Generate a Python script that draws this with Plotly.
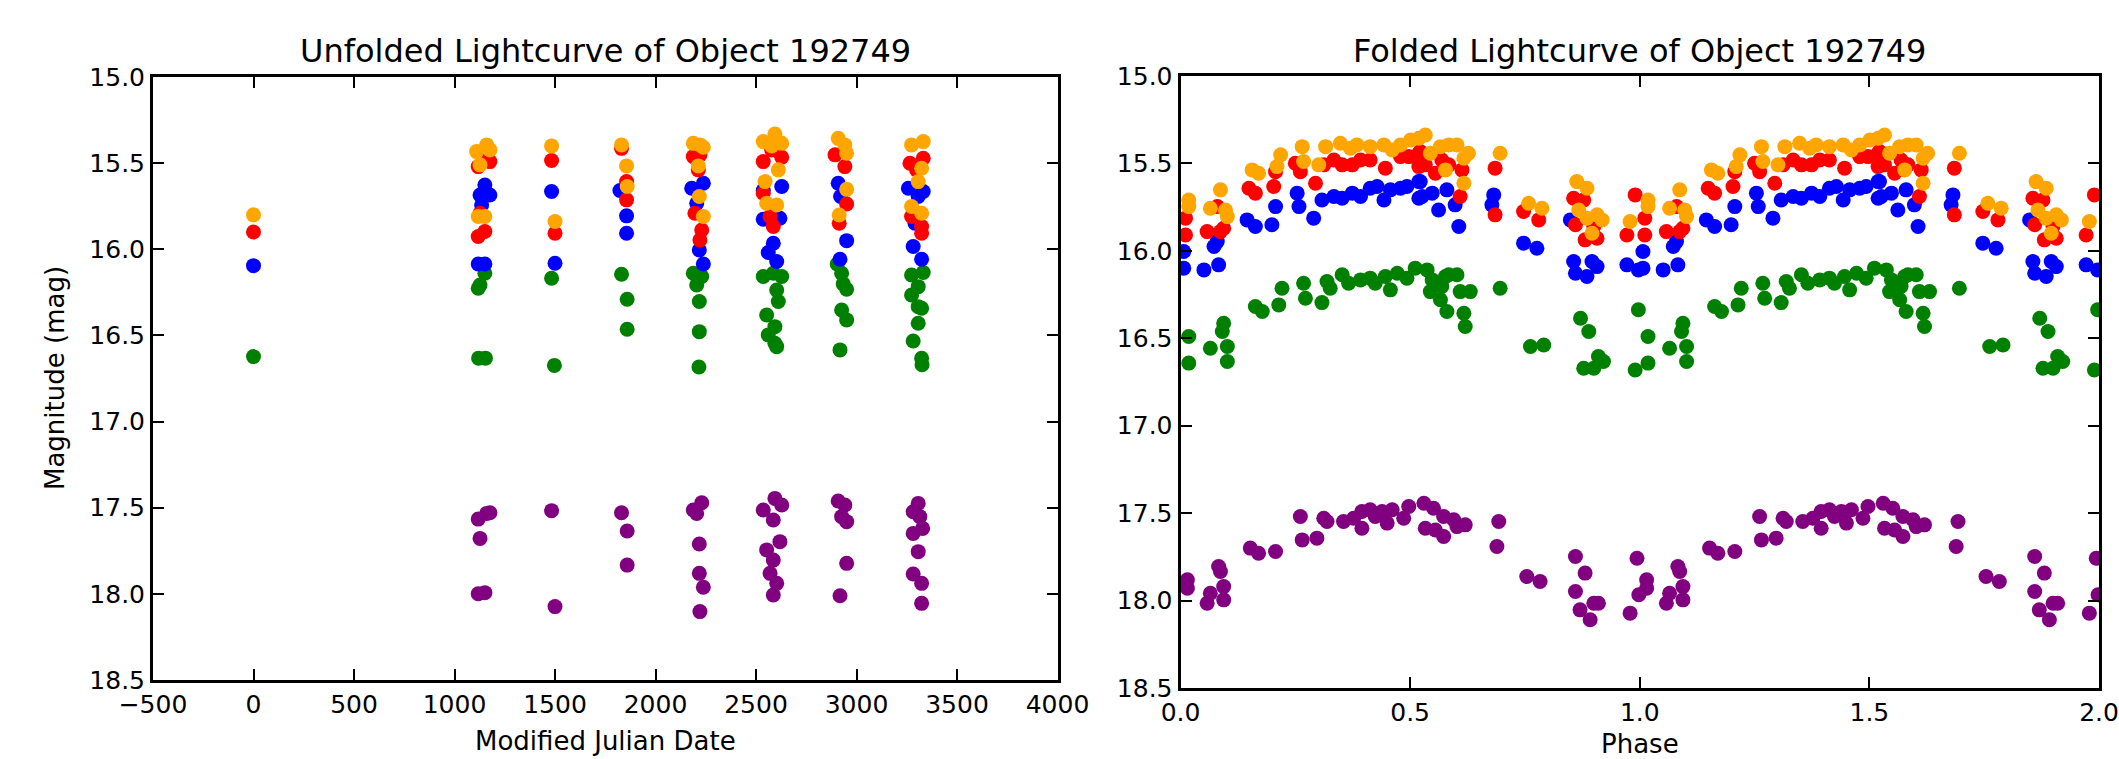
import plotly.graph_objects as go

# ---------------- Unfolded lightcurve (MJD, magnitude) ----------------
orange_t = [0, 1110, 1160, 1176, 1127, 1118, 1151, 1483, 1500, 1831, 1856, 1859,
            2188, 2221, 2238, 2213, 2218, 2238, 2536, 2594, 2628, 2611, 2545, 2553, 2603, 2578,
            2909, 2942, 2951, 2951, 2914, 3274, 3332, 3324, 3307, 3274, 3324]
orange_m = [15.80, 15.433, 15.394, 15.423, 15.510, 15.810, 15.810, 15.400, 15.839, 15.394, 15.516, 15.636,
            15.385, 15.394, 15.408, 15.516, 15.694, 15.810, 15.375, 15.331, 15.385, 15.539, 15.607, 15.733, 15.743, 15.400,
            15.356, 15.394, 15.443, 15.652, 15.801, 15.394, 15.375, 15.530, 15.607, 15.752, 15.791]

red_t = [0, 1118, 1151, 1176, 1127, 1118, 1151, 1483, 1500, 1831, 1856, 1856,
         2188, 2221, 2213, 2230, 2221, 2196, 2536, 2628, 2578, 2536, 2570, 2586,
         2893, 2942, 2951, 2914, 3266, 3332, 3299, 3274, 3324, 3324]
red_m = [15.90, 15.520, 15.472, 15.491, 15.791, 15.926, 15.897, 15.485, 15.907, 15.414, 15.607, 15.713,
         15.462, 15.452, 15.539, 15.888, 15.946, 15.791, 15.491, 15.466, 15.423, 15.675, 15.810, 15.868,
         15.452, 15.520, 15.737, 15.849, 15.501, 15.472, 15.539, 15.810, 15.868, 15.907]

blue_t = [0, 1151, 1127, 1176, 1135, 1118, 1151, 1483, 1500, 1823, 1856, 1856,
          2180, 2238, 2205, 2218, 2238, 2536, 2628, 2619, 2536, 2586, 2561, 2603,
          2909, 2921, 2951, 2918, 3258, 3332, 3307, 3291, 3282, 3324]
blue_m = [16.095, 15.627, 15.685, 15.685, 15.743, 16.085, 16.085, 15.665, 16.081, 15.659, 15.806, 15.907,
          15.646, 15.617, 15.733, 16.004, 16.085, 15.659, 15.636, 15.820, 15.826, 15.965, 16.019, 16.071,
          15.617, 15.694, 15.950, 16.058, 15.646, 15.665, 15.694, 15.849, 15.984, 16.058]

green_t = [0, 1151, 1118, 1127, 1120, 1154, 1483, 1497, 1831, 1859, 1859,
           2188, 2230, 2205, 2218, 2218, 2216, 2536, 2586, 2628, 2603, 2611, 2553, 2594, 2561, 2594, 2603,
           2904, 2926, 2934, 2951, 2926, 2951, 2918,
           3274, 3332, 3307, 3274, 3307, 3324, 3307, 3282, 3324, 3326]
green_m = [16.623, 16.139, 16.226, 16.207, 16.632, 16.632, 16.168, 16.674, 16.145, 16.290, 16.464,
           16.139, 16.158, 16.207, 16.303, 16.478, 16.683, 16.158, 16.139, 16.158, 16.236, 16.303, 16.381, 16.449, 16.497, 16.545, 16.565,
           16.085, 16.139, 16.201, 16.232, 16.352, 16.410, 16.584,
           16.149, 16.135, 16.217, 16.265, 16.333, 16.342, 16.429, 16.532, 16.633, 16.670]

purple_t = [1118, 1160, 1176, 1127, 1118, 1151, 1483, 1500, 1831, 1859, 1859,
            2188, 2230, 2205, 2218, 2218, 2238, 2221,
            2536, 2594, 2628, 2586, 2619, 2553, 2586, 2570, 2603, 2586,
            2909, 2942, 2926, 2951, 2951, 2918,
            3307, 3282, 3315, 3282, 3329, 3307, 3282, 3324, 3324]
purple_m = [17.566, 17.533, 17.529, 17.678, 17.999, 17.993, 17.517, 18.074, 17.529, 17.635, 17.833,
            17.513, 17.471, 17.533, 17.711, 17.881, 17.962, 18.103,
            17.513, 17.446, 17.484, 17.571, 17.697, 17.745, 17.804, 17.881, 17.939, 18.007,
            17.461, 17.484, 17.552, 17.581, 17.823, 18.011,
            17.475, 17.523, 17.552, 17.649, 17.620, 17.755, 17.885, 17.939, 18.055]

# ---------------- Folded lightcurve (phase in [0,1), magnitude) ----------------
orange_p = [0.018, 0.018, 0.065, 0.087, 0.098, 0.102, 0.156, 0.170, 0.210, 0.218, 0.265, 0.268, 0.301,
            0.316, 0.348, 0.370, 0.384, 0.413, 0.443, 0.461, 0.479, 0.501, 0.519,
            0.533, 0.544, 0.566, 0.584, 0.602, 0.617, 0.627, 0.577, 0.617, 0.696, 0.758, 0.787,
            0.863, 0.885, 0.867, 0.885, 0.907, 0.918, 0.896, 0.979]
orange_pm = [15.709, 15.747, 15.756, 15.651, 15.766, 15.804, 15.537, 15.556, 15.518, 15.451, 15.404, 15.489, 15.508,
             15.404, 15.385, 15.413, 15.394, 15.404, 15.394, 15.423, 15.394, 15.366, 15.356,
             15.337, 15.442, 15.404, 15.394, 15.394, 15.470, 15.442, 15.537, 15.613, 15.442, 15.728, 15.756,
             15.604, 15.642, 15.766, 15.813, 15.794, 15.823, 15.899, 15.832]

red_p = [0.011, 0.011, 0.058, 0.080, 0.087, 0.094, 0.149, 0.163, 0.203, 0.207, 0.250, 0.261, 0.294,
         0.312, 0.334, 0.352, 0.374, 0.392, 0.413, 0.446, 0.479, 0.497, 0.519, 0.519,
         0.522, 0.533, 0.555, 0.569, 0.584, 0.613, 0.609, 0.685, 0.685, 0.747, 0.780,
         0.856, 0.878, 0.860, 0.881, 0.907, 0.900, 0.972, 0.990]
red_pm = [15.813, 15.909, 15.890, 15.747, 15.890, 15.871, 15.642, 15.670, 15.632, 15.547, 15.499, 15.547, 15.613,
          15.508, 15.480, 15.508, 15.508, 15.480, 15.480, 15.527, 15.461, 15.461, 15.442, 15.518,
          15.432, 15.508, 15.556, 15.480, 15.508, 15.537, 15.689, 15.527, 15.794, 15.775, 15.823,
          15.699, 15.709, 15.851, 15.937, 15.928, 15.861, 15.909, 15.680]

blue_p = [0.007, 0.007, 0.051, 0.073, 0.080, 0.083, 0.145, 0.163, 0.199, 0.207, 0.254, 0.258, 0.290,
          0.308, 0.334, 0.352, 0.374, 0.392, 0.413, 0.428, 0.443, 0.457, 0.479, 0.493, 0.519, 0.519,
          0.522, 0.526, 0.548, 0.562, 0.580, 0.598, 0.606, 0.682, 0.678, 0.747, 0.776,
          0.849, 0.856, 0.860, 0.885, 0.896, 0.907, 0.972, 0.997]
blue_pm = [16.004, 16.099, 16.109, 15.975, 15.947, 16.080, 15.823, 15.861, 15.851, 15.747, 15.670, 15.747, 15.813,
           15.709, 15.689, 15.699, 15.670, 15.689, 15.642, 15.632, 15.709, 15.651, 15.642, 15.632, 15.604, 15.699,
           15.604, 15.689, 15.670, 15.766, 15.651, 15.737, 15.861, 15.680, 15.737, 15.956, 15.985,
           15.823, 16.061, 16.128, 16.147, 16.061, 16.090, 16.080, 16.109]

green_p = [0.018, 0.018, 0.065, 0.091, 0.094, 0.102, 0.102, 0.163, 0.178, 0.214, 0.221, 0.268, 0.272,
           0.308, 0.319, 0.326, 0.352, 0.366, 0.392, 0.413, 0.424, 0.446, 0.457, 0.472, 0.493, 0.511,
           0.537, 0.548, 0.544, 0.569, 0.577, 0.584, 0.602, 0.566, 0.609, 0.631, 0.580, 0.617, 0.620,
           0.696, 0.762, 0.791, 0.871, 0.889, 0.878, 0.900, 0.910, 0.921, 0.997, 0.990]
green_pm = [16.490, 16.642, 16.557, 16.461, 16.414, 16.547, 16.633, 16.318, 16.347, 16.309, 16.214, 16.185, 16.271,
            16.296, 16.175, 16.214, 16.137, 16.185, 16.166, 16.156, 16.185, 16.147, 16.223, 16.128, 16.156, 16.099,
            16.109, 16.166, 16.233, 16.204, 16.147, 16.137, 16.137, 16.280, 16.233, 16.233, 16.347, 16.357, 16.433,
            16.214, 16.547, 16.538, 16.385, 16.461, 16.671, 16.671, 16.604, 16.633, 16.337, 16.681]

purple_p = [0.015, 0.015, 0.058, 0.065, 0.083, 0.087, 0.094, 0.094, 0.152, 0.170, 0.207, 0.261, 0.265,
            0.297, 0.312, 0.319, 0.355, 0.377, 0.395, 0.395, 0.413, 0.424, 0.439, 0.450, 0.461, 0.486,
            0.497, 0.530, 0.551, 0.533, 0.555, 0.573, 0.573, 0.595, 0.602, 0.620, 0.693, 0.689, 0.754,
            0.783, 0.860, 0.881, 0.860, 0.870, 0.892, 0.900, 0.910, 0.979, 0.994, 0.998]
purple_pm = [17.881, 17.929, 18.015, 17.958, 17.805, 17.834, 17.920, 17.996, 17.700, 17.729, 17.719, 17.519, 17.653,
             17.643, 17.529, 17.548, 17.548, 17.529, 17.491, 17.586, 17.481, 17.519, 17.491, 17.557, 17.481, 17.529,
             17.462, 17.443, 17.472, 17.586, 17.596, 17.634, 17.519, 17.538, 17.577, 17.567, 17.548, 17.691, 17.862,
             17.891, 17.748, 17.843, 17.948, 18.053, 18.110, 18.015, 18.015, 18.072, 17.758, 17.967]

x_ticks_left = [-500, 0, 500, 1000, 1500, 2000, 2500, 3000, 3500, 4000]
x_ticks_right = [0.0, 0.5, 1.0, 1.5, 2.0]
y_ticks = [15.0, 15.5, 16.0, 16.5, 17.0, 17.5, 18.0, 18.5]

bands = [
    ("purple", "#800080", purple_t, purple_m, purple_p, purple_pm),
    ("green", "#008000", green_t, green_m, green_p, green_pm),
    ("blue", "#0000FF", blue_t, blue_m, blue_p, blue_pm),
    ("red", "#FF0000", red_t, red_m, red_p, red_pm),
    ("orange", "#FFA500", orange_t, orange_m, orange_p, orange_pm),
]

W, H = 2119, 759
FONT = "DejaVu Sans"
MSIZE = 15

fig = go.Figure()
for name, col, t, m, p, pm in bands:
    fig.add_trace(go.Scatter(x=t, y=m, mode="markers", name=name, xaxis="x", yaxis="y",
                             marker=dict(color=col, size=MSIZE, line=dict(width=0)), showlegend=False))
    fig.add_trace(go.Scatter(x=p + [v + 1 for v in p], y=pm + pm, mode="markers", name=name,
                             xaxis="x2", yaxis="y2",
                             marker=dict(color=col, size=MSIZE, line=dict(width=0)), showlegend=False))

def px_x(v):
    return v / W

def px_y(v):
    return (H - v) / H

axis_common = dict(showline=True, linecolor="black", linewidth=3, mirror="ticks",
                   ticks="inside", ticklen=11, tickwidth=1.5, tickcolor="black",
                   showgrid=False, zeroline=False, automargin=False,
                   tickfont=dict(family=FONT, size=25, color="black"))

fig.update_layout(
    width=W, height=H,
    margin=dict(l=0, r=0, t=0, b=0, pad=0, autoexpand=False),
    paper_bgcolor="white", plot_bgcolor="white",
    xaxis=dict(domain=[px_x(153), px_x(1057.5)], range=[-500, 4000], tickvals=x_ticks_left,
               anchor="y", **axis_common),
    yaxis=dict(domain=[px_y(680), px_y(77)], range=[18.5, 15.0], tickvals=y_ticks,
               tickformat=".1f", anchor="x", **axis_common),
    xaxis2=dict(domain=[px_x(1180.5), px_x(2099)], range=[0, 2.0], tickvals=x_ticks_right,
                tickformat=".1f", anchor="y2", **axis_common),
    yaxis2=dict(domain=[px_y(688), px_y(76)], range=[18.5, 15.0], tickvals=y_ticks,
                tickformat=".1f", anchor="x2", **axis_common),
    annotations=[
        dict(text="Unfolded Lightcurve of Object 192749", x=px_x(605), y=px_y(51), xref="paper", yref="paper",
             showarrow=False, xanchor="center", yanchor="middle", font=dict(family=FONT, size=32, color="black")),
        dict(text="Folded Lightcurve of Object 192749", x=px_x(1639.5), y=px_y(51), xref="paper", yref="paper",
             showarrow=False, xanchor="center", yanchor="middle", font=dict(family=FONT, size=32, color="black")),
        dict(text="Modified Julian Date", x=px_x(605), y=px_y(741), xref="paper", yref="paper",
             showarrow=False, xanchor="center", yanchor="middle", font=dict(family=FONT, size=26, color="black")),
        dict(text="Phase", x=px_x(1639.5), y=px_y(744), xref="paper", yref="paper",
             showarrow=False, xanchor="center", yanchor="middle", font=dict(family=FONT, size=26, color="black")),
        dict(text="Magnitude (mag)", x=px_x(55), y=px_y(378), xref="paper", yref="paper", textangle=-90,
             showarrow=False, xanchor="center", yanchor="middle", font=dict(family=FONT, size=26, color="black")),
    ],
)

fig.write_html("out.html")
